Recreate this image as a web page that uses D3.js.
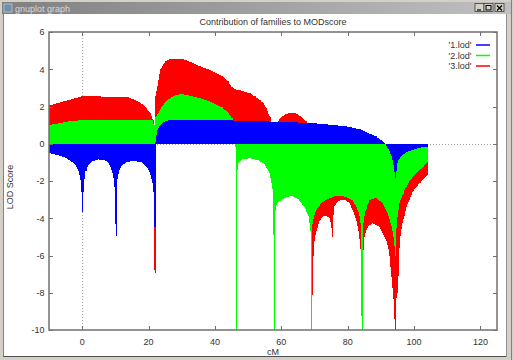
<!DOCTYPE html>
<html><head><meta charset="utf-8">
<script src="https://cdn.jsdelivr.net/npm/d3@7"></script>
<style>
html,body{margin:0;padding:0;background:#d4d0c8;}
svg{display:block;font-family:"Liberation Sans",Arial,sans-serif;}
</style></head>
<body>
<script>
// ---- data ----
const chartTitle = "Contribution of families to MODscore";
const xLabel = "cM";
const yLabel = "LOD Score";
const xTicks = [0, 20, 40, 60, 80, 100, 120];
const yTicks = [-10, -8, -6, -4, -2, 0, 2, 4, 6];
const seriesNames = ["'1.lod'", "'2.lod'", "'3.lod'"];
const seriesColors = ["#0000ff", "#00ff00", "#ff0000"];

const pos1 = [-10,-7,-5,-3,-2,-1,-0.5,-0.2,0,0.2,0.5,1,2,3,5,7,8,9,9.6,9.9,10.1,10.3,10.6,11.2,12,13.5,15.5,18,19.5,20.5,21.2,21.6,21.8,
  22.0,22.1,22.3,22.6,23.2,24,25,26.5,30,40,50,60,70,76,80,84,86.5,88.5,90,91.3,
  91.8,92.5,93.3,93.8,94.1,94.3,94.5,94.9,95.6,96.5,98,100,102,104];
const lod1 = [-0.5,-0.62,-0.76,-0.98,-1.15,-1.5,-1.95,-2.6,-3.65,-2.6,-1.9,-1.45,-1.1,-0.95,-0.84,-0.9,-1.05,-1.45,-2.0,-2.7,-4.95,-2.6,-1.9,-1.4,-1.15,-0.98,-0.92,-1.0,-1.25,-1.6,-2.1,-2.8,-4.45,
  0,0.1,0.4,0.7,0.95,1.1,1.2,1.28,1.3,1.28,1.22,1.18,1.1,1.0,0.92,0.76,0.55,0.4,0.2,0,
  -0.15,-0.35,-0.7,-1.1,-1.5,-1.85,-1.45,-1.05,-0.8,-0.6,-0.42,-0.3,-0.2,-0.15];

const pos2 = [-10,-7,-4,0,5,10,15,19,21,21.6,21.8,22.0,22.5,23.5,24.5,25.5,26.5,28,29.5,31,33,35.5,38,40.5,42,43,44,45,45.5,46,46.3,46.5,
  46.7,47,48,50.5,53,55,56.5,57.3,57.6,57.8,58.0,58.5,59,61,63,65,67,68.2,68.8,69.1,
  69.4,70,70.6,72,73.6,76.6,79.6,81.5,82.6,83.5,84.0,84.2,84.6,85.5,86.6,88.6,90.6,92,93.2,94,94.3,
  94.6,95.6,96.6,97.7,99,100.7,102.5,104];
const lod2 = [1.0,1.1,1.2,1.27,1.3,1.28,1.28,1.3,1.25,1.0,-3.0,1.4,1.5,1.85,2.1,2.3,2.45,2.6,2.66,2.64,2.55,2.44,2.3,2.1,1.95,1.81,1.65,1.4,1.15,0.6,-0.5,-10,
  -1.4,-1.05,-0.85,-0.78,-0.88,-1.1,-1.6,-2.3,-3.0,-10,-3.6,-3.3,-3.15,-2.9,-2.8,-2.95,-3.4,-3.9,-4.6,-10,
  -4.3,-3.8,-3.55,-3.2,-3.0,-2.78,-2.85,-3.05,-3.37,-3.8,-4.4,-10,-4.27,-3.5,-3.02,-2.9,-3.2,-3.7,-4.4,-5.2,-6.0,
  -4.5,-3.2,-2.7,-2.3,-1.9,-1.57,-1.3,-1.0];

const pos3 = [-10,-7,-4,-1,0,3,7,11,13.8,16,17.5,19,20.5,21.3,21.6,21.8,22.0,22.5,23.5,25,26.5,28,30.5,32.5,34.5,38.5,42.5,44,45,46,47.5,50.5,52,53.5,54.5,55.5,56.5,57.2,57.5,
  57.7,57.9,58.4,59,60,61.5,63,64.5,66,67.3,68,68.5,68.9,69.2,69.5,70,70.8,71.6,72.6,73.6,74.6,75.1,75.3,75.5,76.1,77,78.1,79.5,80.6,81.6,82.6,83.4,83.9,84.3,
  84.6,85,85.6,86.6,87.6,89.6,91.6,92.5,93.1,93.8,94.3,94.8,95.1,95.6,96.1,97,97.7,99.7,101.7,104];
const lod3 = [2.05,2.2,2.35,2.5,2.57,2.55,2.53,2.53,2.5,2.35,2.2,2.0,1.64,1.3,0.5,-6.95,2.5,2.89,3.96,4.41,4.54,4.57,4.54,4.4,4.23,3.96,3.6,3.35,3.05,2.92,2.88,2.71,2.55,2.35,2.19,1.9,1.46,1.0,0.0,
  -6.2,0.0,0.8,1.2,1.42,1.6,1.67,1.62,1.45,1.2,0.8,0.0,-4.0,-8.1,-6.0,-5.2,-4.5,-4.1,-3.9,-3.88,-4.0,-4.4,-5.0,-3.8,-3.3,-3.1,-3.0,-3.05,-3.2,-3.6,-4.1,-4.8,-5.7,-6.3,
  -5.7,-5.0,-4.63,-4.35,-4.27,-4.45,-5.16,-5.8,-6.95,-8.3,-10,-8.0,-7.1,-5.6,-4.6,-3.9,-3.4,-2.55,-2.1,-1.7];

// ---- drawing ----
const W = 513, H = 360;
const svg = d3.select("body").append("svg").attr("width", W).attr("height", H);

// window chrome
const defs = svg.append("defs");
const grad = defs.append("linearGradient").attr("id","tb");
grad.append("stop").attr("offset","0%").attr("stop-color","#808080");
grad.append("stop").attr("offset","100%").attr("stop-color","#c0c0c0");
svg.append("rect").attr("x",0).attr("y",0).attr("width",W).attr("height",H).attr("fill","#d4d0c8");
svg.append("rect").attr("x",2).attr("y",2).attr("width",W-4).attr("height",12).attr("fill","url(#tb)");
svg.append("rect").attr("x",4).attr("y",4).attr("width",8).attr("height",8).attr("fill","#6a8fb0").attr("stroke","#dddddd").attr("stroke-width",0.6);
svg.append("text").attr("x",15).attr("y",11.5).attr("font-size",9).attr("fill","#d8d8d8").text("gnuplot graph");
const btnX = [475, 484, 495];
btnX.forEach((bx,i)=>{
  svg.append("rect").attr("x",bx).attr("y",3.5).attr("width",9).attr("height",8).attr("fill","#d4d0c8")
     .attr("stroke","#404040").attr("stroke-width",0.8);
});
svg.append("line").attr("x1",477).attr("x2",481).attr("y1",10).attr("y2",10).attr("stroke","#000").attr("stroke-width",1.2);
svg.append("rect").attr("x",486).attr("y",5.5).attr("width",5).attr("height",4.5).attr("fill","none").attr("stroke","#000").attr("stroke-width",1);
svg.append("path").attr("d","M497,5.5L502,10.5M502,5.5L497,10.5").attr("stroke","#000").attr("stroke-width",1.2);
// canvas
svg.append("rect").attr("x",4).attr("y",14).attr("width",502).attr("height",342).attr("fill","#ffffff");
svg.append("line").attr("x1",3.5).attr("x2",3.5).attr("y1",14).attr("y2",357).attr("stroke","#808080");
svg.append("line").attr("x1",3.5).attr("x2",506.5).attr("y1",356.5).attr("y2",356.5).attr("stroke","#505050");
svg.append("line").attr("x1",506.5).attr("x2",506.5).attr("y1",14).attr("y2",357).attr("stroke","#909090");
svg.append("line").attr("x1",511.5).attr("x2",511.5).attr("y1",0).attr("y2",360).attr("stroke","#808080");

const L = 49, R = 497, T = 32, B = 330;
const x = d3.scaleLinear().domain([-10, 125]).range([L, R]);
const y = d3.scaleLinear().domain([-10, 6]).range([B, T]);

defs.append("clipPath").attr("id","clip").append("rect").attr("x",L).attr("y",T).attr("width",R-L).attr("height",B-T);

// zero axes (dotted)
svg.append("line").attr("x1",x(0)+0.5).attr("x2",x(0)+0.5).attr("y1",T).attr("y2",B)
  .attr("stroke","#a0a0a0").attr("stroke-dasharray","1,2");
svg.append("line").attr("x1",L).attr("x2",R).attr("y1",Math.round(y(0))+0.5).attr("y2",Math.round(y(0))+0.5)
  .attr("stroke","#a0a0a0").attr("stroke-dasharray","1,2");

const series = [
  {pos: pos1, lod: lod1, color: seriesColors[0]},
  {pos: pos2, lod: lod2, color: seriesColors[1]},
  {pos: pos3, lod: lod3, color: seriesColors[2]}
];
const area = d3.area().x(d=>x(d[0])).y0(y(0)).y1(d=>y(d[1]));
const gData = svg.append("g").attr("clip-path","url(#clip)");
// draw in reverse order: 3 (red) first, then 2 (green), then 1 (blue) on top
[2,1,0].forEach(i=>{
  const s = series[i];
  const pts = s.pos.map((p,k)=>[p, s.lod[k]]);
  gData.append("path").datum(pts).attr("d", area).attr("fill", s.color).attr("shape-rendering","crispEdges");
  gData.append("g").selectAll("line").data(pts).join("line")
    .attr("x1", d=>Math.round(x(d[0]))+0.5).attr("x2", d=>Math.round(x(d[0]))+0.5)
    .attr("y1", y(0)).attr("y2", d=>y(d[1]))
    .attr("stroke", s.color).attr("stroke-width", 1).attr("shape-rendering","crispEdges");
});

// border
svg.append("rect").attr("x",L).attr("y",T).attr("width",R-L).attr("height",B-T)
  .attr("fill","none").attr("stroke","#707070").attr("stroke-width",1.5);

// ticks (inward, mirrored)
const tk = 4;
const gt = svg.append("g").attr("stroke","#707070").attr("stroke-width",1);
xTicks.forEach(v=>{
  const px = Math.round(x(v))+0.5;
  gt.append("line").attr("x1",px).attr("x2",px).attr("y1",B).attr("y2",B-tk);
  gt.append("line").attr("x1",px).attr("x2",px).attr("y1",T).attr("y2",T+tk);
});
yTicks.forEach(v=>{
  const py = Math.round(y(v))+0.5;
  gt.append("line").attr("x1",L).attr("x2",L+tk).attr("y1",py).attr("y2",py);
  gt.append("line").attr("x1",R).attr("x2",R-tk).attr("y1",py).attr("y2",py);
});

const txt = svg.append("g").attr("font-size",9).attr("fill","#333");
xTicks.forEach(v=>{
  txt.append("text").attr("x",x(v)).attr("y",344.5).attr("text-anchor","middle").text(v);
});
yTicks.forEach(v=>{
  txt.append("text").attr("x",44.5).attr("y",y(v)+3.3).attr("text-anchor","end").text(v);
});
txt.append("text").attr("x",(L+R)/2).attr("y",354.5).attr("text-anchor","middle").text(xLabel);
txt.append("text").attr("transform","translate(13,187) rotate(-90)").attr("text-anchor","middle").text(yLabel);
txt.append("text").attr("x",(L+R)/2).attr("y",24.5).attr("text-anchor","middle").text(chartTitle);

// legend
const legY = [45, 55.5, 66];
seriesNames.forEach((n,i)=>{
  txt.append("text").attr("x",471.5).attr("y",legY[i]+3.3).attr("text-anchor","end").text(n);
  svg.append("line").attr("x1",476).attr("x2",490).attr("y1",legY[i]).attr("y2",legY[i])
    .attr("stroke",seriesColors[i]).attr("stroke-width",1.5);
});
</script>
</body></html>
